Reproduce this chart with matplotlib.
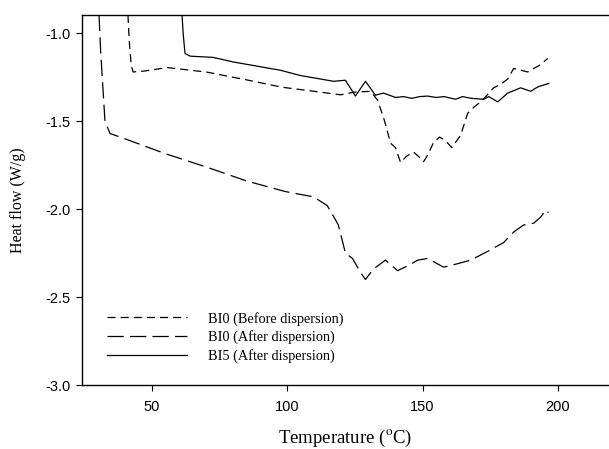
import matplotlib
matplotlib.use("Agg")
import matplotlib.pyplot as plt

plt.rcParams["mathtext.fontset"] = "stix"

# BI0 (Before dispersion)
before_t = [41.1, 41.6, 42.3, 43.0, 47.0, 55.6, 70.0, 85.0, 98.2, 110.0, 119.7, 124.5, 130.8,
            133.4, 136.0, 138.2, 140.0, 141.9, 144.0, 146.7, 148.5, 150.4, 152.0, 154.1, 156.3,
            158.5, 160.8, 164.1, 166.7, 169.0, 171.5, 174.0, 176.3, 179.0, 181.5, 183.7, 186.3,
            188.9, 191.1, 193.5, 196.3]
before_y = [-0.895, -1.05, -1.18, -1.22, -1.215, -1.195, -1.22, -1.265, -1.307, -1.33, -1.35,
            -1.335, -1.33, -1.38, -1.50, -1.625, -1.65, -1.735, -1.70, -1.675, -1.70, -1.73,
            -1.69, -1.62, -1.59, -1.61, -1.65, -1.58, -1.455, -1.42, -1.39, -1.35, -1.31, -1.29,
            -1.26, -1.20, -1.21, -1.22, -1.20, -1.18, -1.143]

# BI0 (After dispersion)
after_t = [30.4, 31.0, 32.0, 32.6, 34.5, 40.0, 55.0, 70.0, 85.0, 99.3, 109.7, 114.8, 117.8,
           118.9, 121.5, 124.1, 127.1, 128.9, 131.9, 136.3, 140.8, 144.8, 148.2, 151.9, 157.8,
           163.0, 167.8, 174.1, 180.0, 183.7, 187.4, 191.1, 193.7, 195.6, 196.6]
after_y = [-0.895, -1.10, -1.35, -1.50, -1.57, -1.60, -1.685, -1.76, -1.84, -1.90, -1.93,
           -1.98, -2.06, -2.09, -2.25, -2.28, -2.36, -2.40, -2.34, -2.29, -2.35, -2.32, -2.29,
           -2.28, -2.33, -2.31, -2.29, -2.24, -2.19, -2.13, -2.09, -2.08, -2.045, -2.005, -2.02]

# BI15 (After dispersion)
bi15_t = [61.1, 61.5, 62.2, 64.1, 72.6, 80.0, 97.4, 104.8, 117.1, 121.5, 125.2, 128.9, 132.6,
          135.6, 140.0, 143.0, 146.0, 149.0, 151.9, 155.0, 158.0, 162.2, 164.8, 168.0, 172.6,
          174.5, 177.8, 181.5, 186.3, 190.0, 192.6, 196.7]
bi15_y = [-0.895, -1.00, -1.115, -1.13, -1.137, -1.163, -1.21, -1.24, -1.273, -1.267, -1.357,
          -1.273, -1.352, -1.34, -1.365, -1.36, -1.37, -1.36, -1.357, -1.365, -1.36, -1.375,
          -1.36, -1.37, -1.375, -1.36, -1.39, -1.34, -1.31, -1.33, -1.305, -1.285]

x_ticks = [50, 100, 150, 200]
y_ticks = [-3.0, -2.5, -2.0, -1.5, -1.0]

serif = "Liberation Serif"
sans = "Liberation Sans"

fig = plt.figure(figsize=(6.09, 4.49), dpi=100)
ax = fig.add_axes([0.1346, 0.1425, 0.8634, 0.8245])

lw = 0.9
l1, = ax.plot(before_t, before_y, color="black", linewidth=lw, label="BI0 (Before dispersion)")
l1.set_dashes([6.5, 4])
l2, = ax.plot(after_t, after_y, color="black", linewidth=lw, label="BI0 (After dispersion)")
l2.set_dashes([13, 5])
ax.plot(bi15_t, bi15_y, color="black", linewidth=lw, label="BI5 (After dispersion)")

ax.set_xlim(24.1, 218.5)
ax.set_ylim(-3.0, -0.895)
ax.set_xticks(x_ticks)
ax.set_yticks(y_ticks)
ax.set_xticklabels([str(v) for v in x_ticks], fontfamily=sans, fontsize=10.5)
ax.set_yticklabels([f"{v:.1f}" for v in y_ticks], fontfamily=sans, fontsize=10.5)
ax.tick_params(direction="out", length=4, width=0.8)
ax.tick_params(axis="x", pad=7)
ax.tick_params(axis="y", pad=4)
ax.spines["right"].set_visible(False)
for s in ["left", "bottom", "top"]:
    ax.spines[s].set_linewidth(1.0)

ax.set_xlabel("Temperature ($^{\\rm o}$C)", fontfamily=serif, fontsize=13.5, labelpad=10)
ax.set_ylabel("Heat flow (W/g)", fontfamily=serif, fontsize=11.5, labelpad=14)

ax.legend(loc="upper left", bbox_to_anchor=(0.0475, 0.198), frameon=False,
          borderaxespad=0, borderpad=0,
          prop={"family": serif, "size": 10.3}, handlelength=5.6, handletextpad=1.47,
          labelspacing=0.33)

fig.savefig("out.png", dpi=100)
